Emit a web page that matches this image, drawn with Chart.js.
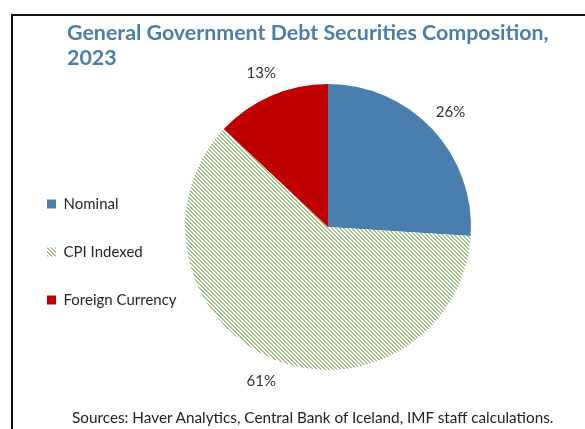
<!DOCTYPE html>
<html>
<head>
<meta charset="utf-8">
<script src="https://cdn.jsdelivr.net/npm/chart.js@4.4.1/dist/chart.umd.min.js"></script>
<style>
  html, body { margin:0; padding:0; background:#fff; }
  body { width:585px; height:429px; position:relative; overflow:hidden; font-family: Lato, "Open Sans", sans-serif; }
  #frame { position:absolute; left:11px; top:14px; width:600px; height:500px; border-left:2px solid #111; border-top:2px solid #111; }
  #title { position:absolute; left:67px; top:20px; font-weight:bold; font-size:21.4px; line-height:25px; color:#4A7EAB; }
  #source { position:absolute; left:72px; top:408px; font-size:15.3px; color:#222; white-space:nowrap; }
  #wrap { position:absolute; left:0; top:0; width:585px; height:429px; }
</style>
</head>
<body>
<div id="frame"></div>
<div id="wrap"><canvas id="c" width="585" height="429"></canvas></div>
<div id="title">General Government Debt Securities Composition,<br>2023</div>
<div id="source">Sources: Haver Analytics, Central Bank of Iceland, IMF staff calculations.</div>
<script>
const categories = ["Nominal", "CPI Indexed", "Foreign Currency"];
const shares = [26, 61, 13];
const labelsText = ["26%", "61%", "13%"];

function hatch() {
  const t = document.createElement('canvas');
  t.width = 4; t.height = 4;
  const g = t.getContext('2d');
  g.fillStyle = '#ffffff'; g.fillRect(0,0,4,4);
  g.fillStyle = '#a3c08a';
  for (let x = 0; x < 4; x++) {
    g.fillRect(x, x, 1, 1);
    g.fillRect(x, (x + 1) % 4, 1, 1);
  }
  return g.createPattern(t, 'repeat');
}
const ctx0 = document.getElementById('c').getContext('2d');
const colors = ['#4A7EAF', hatch(), '#C00000'];

const outLabels = {
  id: 'outLabels',
  afterDatasetsDraw(chart) {
    const ctx = chart.ctx;
    const meta = chart.getDatasetMeta(0);
    ctx.save();
    ctx.font = '15px Lato, sans-serif';
    ctx.fillStyle = '#333';
    ctx.textAlign = 'center';
    ctx.textBaseline = 'middle';
    meta.data.forEach((arc, i) => {
      const p = arc.getProps(['x','y','startAngle','endAngle','outerRadius'], true);
      const mid = (p.startAngle + p.endAngle) / 2;
      const r = p.outerRadius + 25;
      ctx.fillText(labelsText[i], p.x + Math.cos(mid) * r, p.y + Math.sin(mid) * r);
    });
    ctx.restore();
  }
};

new Chart(ctx0, {
  type: 'pie',
  data: {
    labels: categories,
    datasets: [{ data: shares, backgroundColor: colors, borderWidth: 0 }]
  },
  options: {
    responsive: false,
    animation: false,
    layout: { padding: { left: 14, top: 84, bottom: 59, right: 108 } },
    plugins: {
      tooltip: { enabled: false },
      legend: {
        position: 'left',
        align: 'center',
        maxWidth: 165,
        title: { display: true, text: '', font: { size: 15 }, padding: { top: 16, bottom: 16 } },
        labels: {
          boxWidth: 9, boxHeight: 9, padding: 33,
          font: { family: 'Lato, sans-serif', size: 15 },
          color: '#262626'
        }
      }
    }
  },
  plugins: [outLabels]
});
</script>
</body>
</html>
